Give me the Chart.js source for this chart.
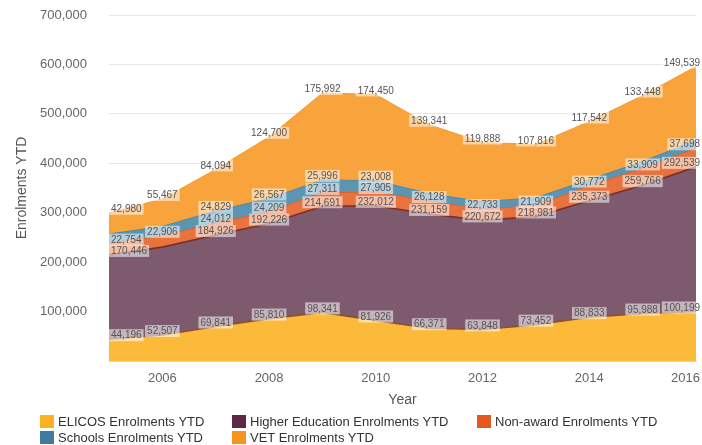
<!DOCTYPE html>
<html>
<head>
<meta charset="utf-8">
<script src="https://cdn.jsdelivr.net/npm/chart.js@4.4.1/dist/chart.umd.min.js"></script>
<style>
  html, body { margin: 0; padding: 0; background: #fff; }
  #wrap { position: relative; width: 702px; height: 445px; }
  #legend { position: absolute; left: 0; top: 0; width: 702px; height: 445px; pointer-events: none;
    font: 13px "Liberation Sans", Arial, sans-serif; color: #333; }
  .item { position: absolute; display: flex; align-items: center; white-space: nowrap; }
  .box { width: 14px; height: 13px; margin-right: 4px; }
</style>
</head>
<body>
<div id="wrap">
  <canvas id="chart" width="702" height="445"></canvas>
  <div id="legend"></div>
</div>
<script>
const years = [2005, 2006, 2007, 2008, 2009, 2010, 2011, 2012, 2013, 2014, 2015, 2016];
const xTickLabels = [2006, 2008, 2010, 2012, 2014, 2016];

const elicos = [44196, 52507, 69841, 85810, 98341, 81926, 66371, 63848, 73452, 88833, 95988, 100199];
const higherEd = [170446, 177884, 184926, 192226, 214691, 232012, 231159, 220672, 218981, 235373, 259766, 292539];
const nonAward = [22754, 22906, 24012, 24209, 27311, 27905, 26128, 22733, 21909, 30772, 33909, 37698];
const schools = [19500, 19000, 24829, 26567, 25996, 23008, 15000, 15000, 16000, 12000, 14000, 16000];
const vet = [42980, 55467, 84094, 124700, 175992, 174450, 139341, 119888, 107816, 117542, 133448, 149539];

const seriesNames = [
  'ELICOS Enrolments YTD',
  'Higher Education Enrolments YTD',
  'Non-award Enrolments YTD',
  'Schools Enrolments YTD',
  'VET Enrolments YTD',
];

const fills = ['#fcba3a', '#7d5a6d', '#e9733f', '#5b95b2', '#f9a33c'];
const lines = ['#8a5034', '#7a2e2a', '#d9602a', '#4a86a6', '#f59a2c'];
const legendColors = ['#fdb022', '#5c2846', '#e4581e', '#3f7b9c', '#f7941d'];

const FONT = '"Liberation Sans", Arial, sans-serif';

const dataLabels = {
  id: 'dataLabels',
  afterDatasetsDraw(chart) {
    const ctx = chart.ctx;
    const area = chart.chartArea;
    const placed = [];
    ctx.save();
    ctx.font = '10px ' + FONT;
    ctx.textAlign = 'center';
    ctx.textBaseline = 'middle';
    chart.data.datasets.forEach((ds, di) => {
      const meta = chart.getDatasetMeta(di);
      meta.data.forEach((pt, i) => {
        const text = ds.data[i].toLocaleString('en-US');
        const w = ctx.measureText(text).width + 4;
        const h = 12;
        const cx = Math.max(area.left + w / 2, Math.min(chart.width - w / 2, pt.x));
        const cy = pt.y - 4;
        const hit = { l: cx - w / 2, r: cx + w / 2, t: cy - 5, b: cy + 5 };
        if (placed.some((p) => hit.l < p.r && hit.r > p.l && hit.t < p.b && hit.b > p.t)) return;
        placed.push(hit);
        ctx.fillStyle = 'rgba(255,255,255,0.55)';
        ctx.fillRect(cx - w / 2, cy - h / 2, w, h);
        ctx.fillStyle = '#555';
        ctx.fillText(text, cx, cy + 0.5);
      });
    });
    ctx.restore();
  },
};

const xTicks = {
  id: 'xTicks',
  afterDraw(chart) {
    const ctx = chart.ctx;
    const scale = chart.scales.x;
    ctx.save();
    ctx.font = '13px ' + FONT;
    ctx.fillStyle = '#666';
    ctx.textAlign = 'center';
    ctx.textBaseline = 'middle';
    xTickLabels.forEach((v) => {
      const text = String(v);
      const w = ctx.measureText(text).width;
      const x = Math.min(chart.width - 2 - w / 2, scale.getPixelForValue(v));
      ctx.fillText(text, x, chart.chartArea.bottom + 17);
    });
    ctx.restore();
  },
};

const seriesData = [elicos, higherEd, nonAward, schools, vet];

new Chart(document.getElementById('chart'), {
  type: 'line',
  data: {
    labels: years,
    datasets: seriesData.map((data, i) => ({
      label: seriesNames[i],
      data,
      backgroundColor: fills[i],
      borderColor: lines[i],
      borderWidth: i < 2 ? 1.6 : 1,
      fill: i === 0 ? 'origin' : '-1',
      pointRadius: 0,
      tension: 0,
    })),
  },
  options: {
    responsive: false,
    animation: false,
    layout: { padding: { left: 0, right: 6, top: 15, bottom: 36 } },
    plugins: {
      legend: { display: false },
      tooltip: { enabled: false },
    },
    scales: {
      x: {
        type: 'linear',
        min: 2005,
        max: 2016,
        ticks: { display: false },
        grid: { display: false },
        border: { color: '#ddd3bf' },
        title: {
          display: true,
          text: 'Year',
          color: '#555',
          font: { family: FONT, size: 14 },
          padding: { top: 0, bottom: 0 },
        },
        afterFit(scale) { scale.height = 48; },
      },
      y: {
        stacked: true,
        min: 0,
        max: 700000,
        ticks: {
          stepSize: 100000,
          padding: 22,
          color: '#666',
          font: { family: FONT, size: 13 },
          callback: (v) => (v === 0 ? '' : v.toLocaleString('en-US')),
        },
        grid: { color: '#e6e6e6', drawTicks: false },
        border: { display: false },
        title: {
          display: true,
          text: 'Enrolments YTD',
          color: '#555',
          font: { family: FONT, size: 14 },
          padding: { top: 14, bottom: 0 },
        },
        afterFit(scale) {
          scale.width = 109;
          scale.paddingTop = 0;
          scale.paddingBottom = 0;
        },
      },
    },
  },
  plugins: [dataLabels, xTicks],
});

// legend laid out like the original: three columns, two rows
const legendCols = [40, 232, 477];
const legendRows = [421, 437];
const legendEl = document.getElementById('legend');
seriesNames.forEach((name, i) => {
  const item = document.createElement('div');
  item.className = 'item';
  item.style.left = legendCols[i % 3] + 'px';
  item.style.top = (legendRows[Math.floor(i / 3)] - 7) + 'px';
  item.style.height = '14px';
  const box = document.createElement('span');
  box.className = 'box';
  box.style.background = legendColors[i];
  item.appendChild(box);
  item.appendChild(document.createTextNode(name));
  legendEl.appendChild(item);
});
</script>
</body>
</html>
